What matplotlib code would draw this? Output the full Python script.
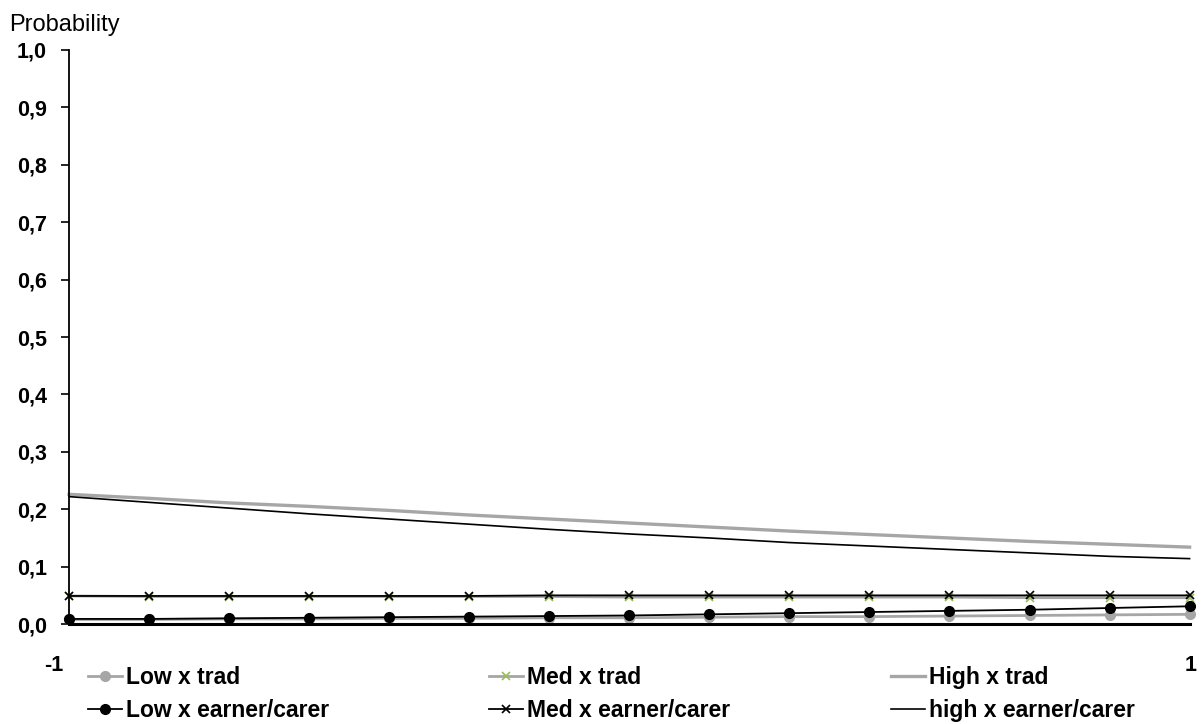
import matplotlib

matplotlib.use("Agg")

import matplotlib.pyplot as plt
import matplotlib.transforms as mtransforms
import numpy as np

plt.rcParams["font.family"] = ["Liberation Sans", "DejaVu Sans"]

# x positions: 15 evenly spaced points from -1 to 1
x_values = np.linspace(-1, 1, 15)

low_trad = [0.008, 0.008, 0.009, 0.009, 0.010, 0.010, 0.011, 0.011,
            0.012, 0.013, 0.013, 0.014, 0.015, 0.016, 0.017]
med_trad = [0.049, 0.048, 0.048, 0.048, 0.048, 0.048, 0.048, 0.047,
            0.047, 0.047, 0.047, 0.047, 0.046, 0.046, 0.046]
high_trad = [0.226, 0.219, 0.211, 0.205, 0.198, 0.190, 0.183, 0.176,
             0.169, 0.162, 0.156, 0.150, 0.144, 0.139, 0.134]
low_earner = [0.009, 0.009, 0.010, 0.011, 0.012, 0.013, 0.014, 0.015,
              0.017, 0.019, 0.021, 0.023, 0.025, 0.028, 0.031]
med_earner = [0.049, 0.049, 0.049, 0.049, 0.049, 0.049, 0.050, 0.050,
              0.050, 0.050, 0.050, 0.050, 0.050, 0.050, 0.050]
high_earner = [0.222, 0.212, 0.202, 0.192, 0.183, 0.174, 0.165, 0.157,
               0.150, 0.142, 0.136, 0.130, 0.124, 0.118, 0.114]

y_ticks = np.arange(0, 1.01, 0.1)

fig = plt.figure(figsize=(12.01, 7.24), dpi=100)
ax = fig.add_axes([0.0575, 0.138, 0.933, 0.793])

gray = "#a6a6a6"
h1, = ax.plot(x_values, low_trad, color=gray, lw=2.0, marker="o", ms=7,
              mfc=gray, mec=gray, label="Low x trad")
h2, = ax.plot(x_values, med_trad, color=gray, lw=2.0, marker="x", ms=6,
              mec="#9bbb59", mew=1.2, label="Med x trad")
h3, = ax.plot(x_values, high_trad, color=gray, lw=2.4, label="High x trad")
h4, = ax.plot(x_values, low_earner, color="black", lw=1.3, marker="o", ms=7,
              label="Low x earner/carer")
h5, = ax.plot(x_values, med_earner, color="black", lw=1.3, marker="x", ms=6,
              mew=1.2, label="Med x earner/carer")
h6, = ax.plot(x_values, high_earner, color="black", lw=1.2,
              label="high x earner/carer")

ax.set_xlim(-1, 1)
ax.set_ylim(0, 1)
ax.set_yticks(y_ticks)
ax.set_yticklabels([f"{v:.1f}".replace(".", ",") for v in y_ticks],
                   fontsize=15.5, fontweight="bold")
ax.set_xticks([-1, 1])
ax.set_xticklabels(["-1", "1"], fontsize=15.5, fontweight="bold")
ax.tick_params(axis="x", length=0, pad=22)
ax.tick_params(axis="y", length=6, width=1.2, pad=10)

# the "-1" label sits a little left of the axis start
shifts = [-15, 1]
for lbl, dx in zip(ax.get_xticklabels(), shifts):
    lbl.set_transform(lbl.get_transform()
                      + mtransforms.ScaledTranslation(dx / 100, 0, fig.dpi_scale_trans))

for side in ("top", "right"):
    ax.spines[side].set_visible(False)
ax.spines["left"].set_linewidth(1.3)
ax.spines["bottom"].set_linewidth(2.2)
ax.margins(x=0)
for p in ax.lines:
    p.set_clip_on(False)

fig.text(0.008, 0.965, "Probability", fontsize=17, ha="left", va="center")

fig.legend(handles=[h1, h4, h2, h5, h3, h6], ncol=3, loc="upper left",
           bbox_to_anchor=(88 / 1201, 1 - 666 / 724), frameon=False,
           borderpad=0, borderaxespad=0,
           prop={"size": 16.5, "weight": "bold"}, handlelength=1.48,
           handletextpad=0.17, columnspacing=7.0, labelspacing=0.45)

fig.savefig("out.png", dpi=100)
